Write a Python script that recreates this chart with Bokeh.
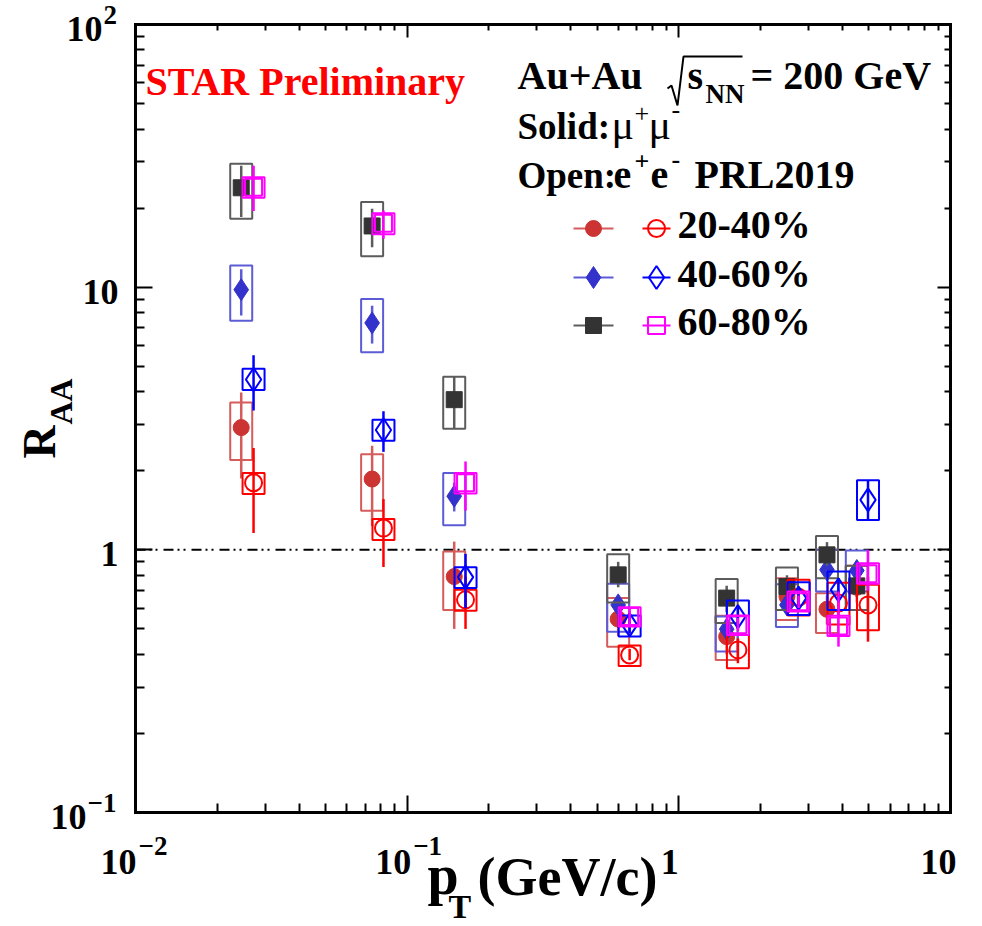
import numpy as np
from bokeh.plotting import figure
from bokeh.models import FixedTicker, LogAxis, Label
from bokeh.embed import file_html
from bokeh.resources import INLINE

# ---------------- data ----------------
pt_mumu = [0.0245, 0.0743, 0.149, 0.598, 1.50, 2.50, 3.51, 4.52]
pt_ee = [0.0272, 0.0818, 0.164, 0.659, 1.65, 2.76, 3.87, 4.97]

# 20-40%
raa_mumu_2040 = [2.92, 1.86, 0.791, 0.545, 0.467, 0.664, 0.594, 0.72]
stat_lo_mumu_2040 = [1.87, 1.23, 0.50, 0.47, 0.40, 0.57, 0.52, 0.63]
stat_hi_mumu_2040 = [3.97, 2.49, 1.075, 0.62, 0.53, 0.76, 0.67, 0.81]
sys_lo_mumu_2040 = [2.20, 1.41, 0.59, 0.428, 0.381, 0.541, 0.482, 0.59]
sys_hi_mumu_2040 = [3.64, 2.31, 0.985, 0.655, 0.561, 0.78, 0.684, 0.87]

raa_ee_2040 = [1.80, 1.21, 0.645, 0.398, 0.416, 0.66, 0.627, 0.617]
stat_lo_ee_2040 = [1.16, 0.86, 0.50, 0.38, 0.37, 0.60, 0.55, 0.447]
stat_hi_ee_2040 = [2.44, 1.56, 0.79, 0.42, 0.46, 0.72, 0.70, 0.79]
sys_lo_ee_2040 = [1.63, 1.09, 0.586, 0.361, 0.354, 0.562, 0.52, 0.494]
sys_hi_ee_2040 = [1.96, 1.31, 0.704, 0.432, 0.474, 0.769, 0.75, 0.736]

# 40-60%
raa_mumu_4060 = [9.78, 7.31, 1.60, 0.617, 0.499, 0.617, 0.839, 0.834]
stat_lo_mumu_4060 = [7.8, 6.1, 1.40, 0.57, 0.46, 0.57, 0.78, 0.77]
stat_hi_mumu_4060 = [11.7, 8.5, 1.80, 0.67, 0.54, 0.67, 0.90, 0.90]
sys_lo_mumu_4060 = [7.45, 5.65, 1.24, 0.488, 0.41, 0.508, 0.694, 0.694]
sys_hi_mumu_4060 = [12.1, 9.02, 1.96, 0.742, 0.557, 0.74, 1.0, 0.994]

raa_ee_4060 = [4.45, 2.86, 0.787, 0.518, 0.557, 0.655, 0.704, 1.55]
stat_lo_ee_4060 = [3.39, 2.36, 0.60, 0.48, 0.50, 0.60, 0.63, 1.30]
stat_hi_ee_4060 = [5.5, 3.37, 0.965, 0.56, 0.61, 0.71, 0.78, 1.84]
sys_lo_ee_4060 = [4.06, 2.60, 0.715, 0.468, 0.474, 0.565, 0.59, 1.30]
sys_hi_ee_4060 = [4.89, 3.13, 0.859, 0.562, 0.641, 0.753, 0.827, 1.84]

# 60-80%
raa_mumu_6080 = [23.9, 17.1, 3.73, 0.803, 0.655, 0.725, 0.957, 0.729]
stat_lo_mumu_6080 = [18.5, 14.2, 2.89, 0.72, 0.58, 0.66, 0.87, 0.66]
stat_hi_mumu_6080 = [29.0, 19.9, 4.56, 0.90, 0.73, 0.80, 1.07, 0.80]
sys_lo_mumu_6080 = [18.2, 13.1, 2.89, 0.63, 0.526, 0.59, 0.78, 0.59]
sys_hi_mumu_6080 = [29.5, 21.1, 4.56, 0.963, 0.774, 0.856, 1.13, 0.87]

raa_ee_6080 = [24.0, 17.5, 1.80, 0.557, 0.518, 0.635, 0.513, 0.81]
stat_lo_ee_6080 = [19.5, 15.3, 1.41, 0.52, 0.49, 0.60, 0.428, 0.70]
stat_hi_ee_6080 = [29.0, 19.6, 2.17, 0.60, 0.55, 0.67, 0.694, 1.0]
sys_lo_ee_6080 = [21.9, 15.9, 1.64, 0.511, 0.474, 0.582, 0.47, 0.742]
sys_hi_ee_6080 = [26.2, 19.1, 1.96, 0.605, 0.562, 0.694, 0.561, 0.89]

centrality_labels = ["20-40%", "40-60%", "60-80%"]

x_ticks = [0.01, 0.1, 1, 10]
x_tick_base = ["10", "10", "1", "10"]
x_tick_exp = ["\u22122", "\u22121", "", ""]
y_ticks = [0.1, 1, 10, 100]
y_tick_base = ["10", "1", "10", "10"]
y_tick_exp = ["\u22121", "", "", "2"]
unity = 1.0

# ---------------- layout / style ----------------
FONT = "Liberation Serif"
W, H = 982, 926
FL, FR, FT, FB = 135, 950, 24, 812  # visible box edges in page pixels
BASE = 0.35  # baseline correction (fraction of font size)


def X(px):
    return 10 ** (-2 + 3 * (px - FL) / (FR - FL))


def Y(py):
    return 10 ** (2 - 3 * (py - FT) / (FB - FT))


# the drawing area is the whole canvas; the boxed axes sit at fixed locations
p = figure(x_axis_type="log", y_axis_type="log",
           x_range=(X(0), X(W)), y_range=(Y(H), Y(0)),
           frame_width=W, frame_height=H,
           min_border=0, min_border_left=0, min_border_right=0,
           min_border_top=0, min_border_bottom=0,
           output_backend="svg", toolbar_location=None, title=None,
           background_fill_color="white", border_fill_color="white")
p.xgrid.visible = False
p.ygrid.visible = False
p.outline_line_color = None


def minors(ticks):
    out = []
    for t in ticks[:-1]:
        out += [m * t for m in range(2, 10)]
    return out


def style_axis(ax, major, minor, loc, bounds):
    ax.fixed_location = loc
    ax.bounds = bounds
    ax.major_tick_in = major
    ax.major_tick_out = 0
    ax.minor_tick_in = minor
    ax.minor_tick_out = 0
    ax.axis_line_width = 3
    ax.axis_line_cap = "square"
    ax.major_tick_line_width = 2
    ax.minor_tick_line_width = 2
    ax.major_label_text_font_size = "2px"
    ax.major_label_text_alpha = 0
    ax.major_label_standoff = 0


xb = (x_ticks[0], x_ticks[-1])
yb = (y_ticks[0], y_ticks[-1])
p.xaxis[0].ticker = FixedTicker(ticks=x_ticks, minor_ticks=minors(x_ticks))
p.yaxis[0].ticker = FixedTicker(ticks=y_ticks, minor_ticks=minors(y_ticks))
style_axis(p.xaxis[0], 17, 9, y_ticks[0], xb)
style_axis(p.yaxis[0], 17, 9, x_ticks[0], yb)
top_ax = LogAxis(ticker=FixedTicker(ticks=x_ticks, minor_ticks=minors(x_ticks)))
right_ax = LogAxis(ticker=FixedTicker(ticks=y_ticks, minor_ticks=minors(y_ticks)))
style_axis(top_ax, 13, 6, y_ticks[-1], xb)
style_axis(right_ax, 13, 6, x_ticks[-1], yb)
p.add_layout(top_ax, "above")
p.add_layout(right_ax, "right")

# R_AA = 1 reference line
p.segment(x0=[x_ticks[0]], y0=[unity], x1=[x_ticks[-1]], y1=[unity],
          line_color="black", line_width=2, line_dash="10 4 2 4 2 6")

series = [
    dict(x=pt_mumu, y=raa_mumu_2040, slo=stat_lo_mumu_2040, shi=stat_hi_mumu_2040,
         ylo=sys_lo_mumu_2040, yhi=sys_hi_mumu_2040, marker="circle", size=16,
         color="#cc3333", box="#d65c5c", filled=True),
    dict(x=pt_mumu, y=raa_mumu_4060, slo=stat_lo_mumu_4060, shi=stat_hi_mumu_4060,
         ylo=sys_lo_mumu_4060, yhi=sys_hi_mumu_4060, marker="diamond", size=22,
         color="#3333cc", box="#5c5cd6", filled=True),
    dict(x=pt_mumu, y=raa_mumu_6080, slo=stat_lo_mumu_6080, shi=stat_hi_mumu_6080,
         ylo=sys_lo_mumu_6080, yhi=sys_hi_mumu_6080, marker="square", size=16,
         color="#333333", box="#5c5c5c", filled=True),
    dict(x=pt_ee, y=raa_ee_2040, slo=stat_lo_ee_2040, shi=stat_hi_ee_2040,
         ylo=sys_lo_ee_2040, yhi=sys_hi_ee_2040, marker="circle", size=17,
         color="#ff0000", box="#ff0000", filled=False),
    dict(x=pt_ee, y=raa_ee_4060, slo=stat_lo_ee_4060, shi=stat_hi_ee_4060,
         ylo=sys_lo_ee_4060, yhi=sys_hi_ee_4060, marker="diamond", size=23,
         color="#0000ff", box="#0000ff", filled=False),
    dict(x=pt_ee, y=raa_ee_6080, slo=stat_lo_ee_6080, shi=stat_hi_ee_6080,
         ylo=sys_lo_ee_6080, yhi=sys_hi_ee_6080, marker="square", size=17,
         color="#ff00ff", box="#ff00ff", filled=False),
]

for s in series:
    lo = np.array(s["ylo"]); hi = np.array(s["yhi"])
    p.rect(x=s["x"], y=(lo + hi) / 2, width=22, width_units="screen",
           height=hi - lo, fill_color=None, line_color=s["box"], line_width=2)
    p.segment(x0=s["x"], y0=s["slo"], x1=s["x"], y1=s["shi"],
              line_color=s["box"], line_width=2.5)
    if s["filled"]:
        p.scatter(s["x"], s["y"], marker=s["marker"], size=s["size"],
                  fill_color=s["color"], line_color=s["color"])
    else:
        p.scatter(s["x"], s["y"], marker=s["marker"], size=s["size"],
                  fill_color=None, line_color=s["color"], line_width=2)


# ---------------- text ----------------
def lab(text, px, py, size, bold=True, align="left", color="black", angle=0.0):
    xo, yo = (0, BASE * size) if angle == 0 else (-BASE * size, 0)
    p.add_layout(Label(x=X(px), y=Y(py), x_offset=xo, y_offset=yo, text=text,
                       text_font=FONT, text_font_size=f"{size}px",
                       text_font_style="bold" if bold else "normal",
                       text_align=align, text_baseline="alphabetic",
                       text_color=color, angle=angle))


def tick_lab(text, x, y, xo, yo, size, align):
    p.add_layout(Label(x=x, y=y, x_offset=xo, y_offset=yo + BASE * size, text=text,
                       text_font=FONT, text_font_size=f"{size}px",
                       text_font_style="bold", text_align=align,
                       text_baseline="alphabetic", text_color="black"))


# x tick labels
x_base_left = [-35, -32, -18, -30]
for t, b, e, xo in zip(x_ticks, x_tick_base, x_tick_exp, x_base_left):
    tick_lab(b, t, y_ticks[0], xo, -62, 36, "left")
    if e:
        tick_lab(e, t, y_ticks[0], xo + 38, -43, 27, "left")

# y tick labels
y_base_right = [-49, -17, -17, -33]
for t, b, e, xo in zip(y_ticks, y_tick_base, y_tick_exp, y_base_right):
    tick_lab(b, x_ticks[0], t, xo, -17, 36, "right")
    if e:
        tick_lab(e, x_ticks[0], t, xo + 1, 0, 27, "left")

# axis titles
lab("R", 55, 458, 46, angle=np.pi / 2)
lab("AA", 72, 424, 32, angle=np.pi / 2)
lab("p", 427, 894, 56)
lab("T", 448, 918, 34)
lab("(GeV/c)", 477, 895, 54)

lab("STAR Preliminary", 145, 95, 40, color="#ff0000")

lab("Au+Au", 517, 89, 40)
# square-root sign with its bar
p.line(x=[X(667), X(671), X(677), X(683), X(742)],
       y=[Y(88), Y(85), Y(105), Y(56), Y(56)],
       line_color="black", line_width=2)
lab("s", 687, 89, 40)
lab("NN", 705, 103, 27)
lab("= 200 GeV", 750, 89, 40)

lab("Solid:", 517, 139, 37)
lab("\u03bc", 611, 139, 42, bold=False)
lab("+", 634, 122, 26, bold=False)
lab("\u03bc", 648, 139, 42, bold=False)
lab("-", 671, 118, 26, bold=False)

lab("Open:", 517, 188, 37)
lab("e", 613, 188, 40)
lab("+", 634, 170, 26)
lab("e", 650, 188, 40)
lab("-", 671, 168, 26)
lab("PRL2019", 694, 188, 40)

# legend
row_py = [228, 277, 325]
solid_series = series[:3]
open_series = series[3:]
for py, lbl, ss, so in zip(row_py, centrality_labels, solid_series, open_series):
    p.segment(x0=[X(573)], y0=[Y(py)], x1=[X(613)], y1=[Y(py)],
              line_color=ss["box"], line_width=2)
    p.scatter([X(593)], [Y(py)], marker=ss["marker"], size=ss["size"],
              fill_color=ss["color"], line_color=ss["color"])
    p.segment(x0=[X(642)], y0=[Y(py)], x1=[X(670)], y1=[Y(py)],
              line_color=so["color"], line_width=2)
    p.scatter([X(656)], [Y(py)], marker=so["marker"], size=so["size"],
              fill_color=None, line_color=so["color"], line_width=2)
    lab(lbl, 677, py + 10, 40)

open("out.html", "w").write(file_html(p, INLINE))
